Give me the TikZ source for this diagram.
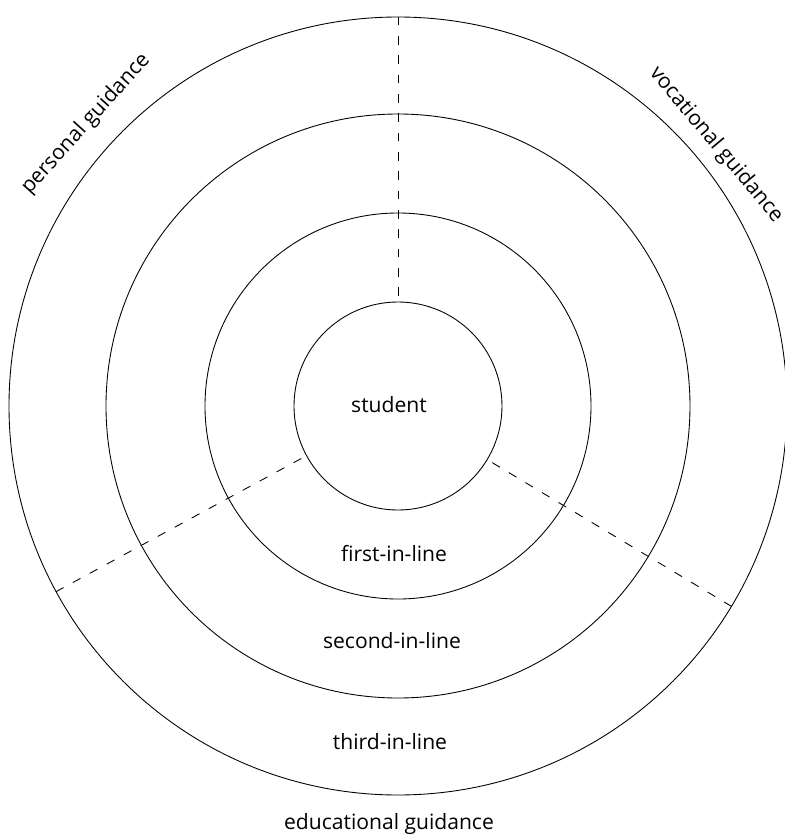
\documentclass[tikz,border=0pt]{standalone}
\usepackage{fontspec}
\setmainfont{Open Sans}

\begin{document}
\begin{tikzpicture}[x=0.02cm,y=0.02cm,line width=0.5pt,
  ringtext/.style={font=\fontsize{12}{14}\selectfont},
  divider/.style={dash pattern=on 5pt off 6pt}]
\useasboundingbox (-398,-430) rectangle (387,406);

\coordinate (centre) at (0,0);

% the four rings
\draw (centre) circle (104);
\draw (centre) circle (193);
\draw (centre) circle (292);
\draw (centre) circle (389);

% the three sectors
\draw [divider] (90:110) -- (90:389);
\draw [divider] (208.5:110) -- (208.5:389);
\draw [divider] (-31:110) -- (-31:389);

\node[ringtext] (student) at (-9, 1) {student};
\node[ringtext] (first) at (-4, -148) {first-in-line};
\node[ringtext] (second) at (-6, -235) {second-in-line};
\node[ringtext] (third) at (-8, -336) {third-in-line};

\node[ringtext] (educational) at (-9, -418) {educational guidance};
\node[ringtext, rotate=48] (personal) at (-312, 282) {personal guidance};
\node[ringtext, rotate=-50] (vocational) at (318, 261) {vocational guidance};

\end{tikzpicture}
\end{document}
